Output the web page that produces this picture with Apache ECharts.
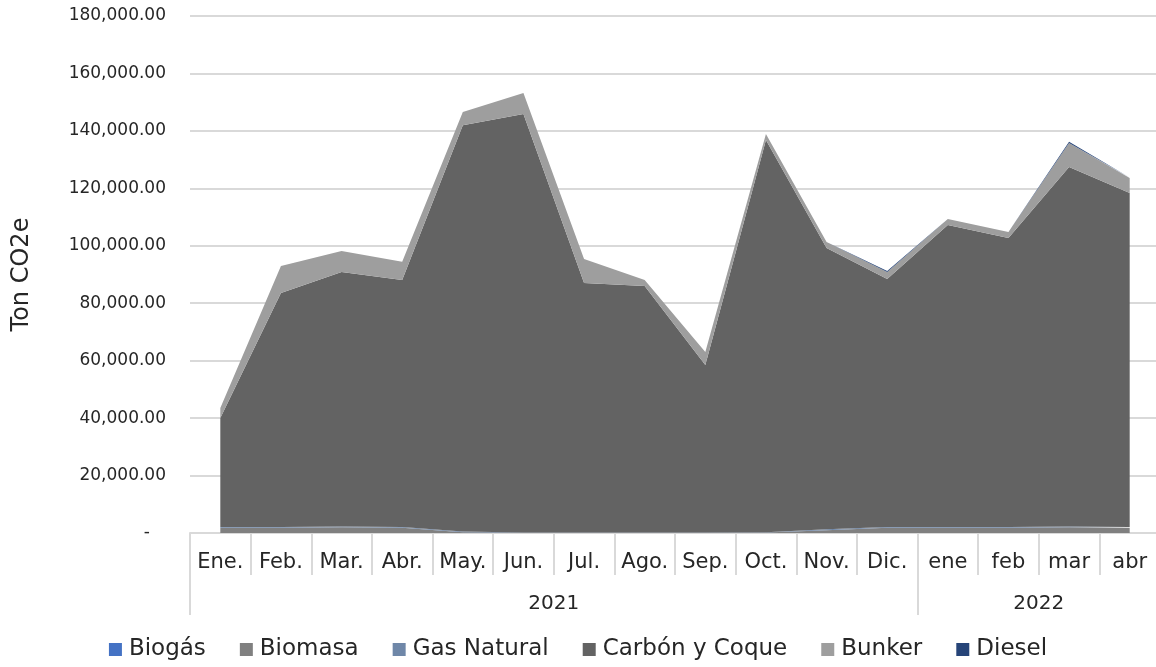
<!DOCTYPE html>
<html>
<head>
<meta charset="utf-8">
<script src="https://cdn.jsdelivr.net/npm/echarts@6/dist/echarts.min.js"></script>
<style>
  html, body { margin: 0; padding: 0; background: #fff; }
  #main { width: 1156px; height: 667px; }
</style>
</head>
<body>
<div id="main"></div>
<script>
// months (first level) and years (second level)
var months = ["Ene.", "Feb.", "Mar.", "Abr.", "May.", "Jun.", "Jul.", "Ago.", "Sep.", "Oct.", "Nov.", "Dic.", "ene", "feb", "mar", "abr"];
var years = ["2021", "2022"];
var yearStart = [0, 12];
var yearLabelPos = [6, 14];

// Ton CO2e per source
var biogas = [0, 0, 0, 0, 0, 0, 0, 0, 0, 0, 0, 0, 0, 0, 0, 0];
var biomasa = [1800, 1800, 2000, 1800, 300, 100, 100, 100, 100, 200, 1000, 1800, 1800, 1800, 2000, 1800];
var gasNatural = [300, 300, 300, 300, 200, 100, 100, 100, 100, 100, 300, 300, 300, 300, 300, 300];
var carbon = [37900, 81500, 88600, 86000, 141500, 145700, 86800, 85800, 58300, 136500, 97900, 86300, 105100, 100600, 125100, 116300];
var bunker = [3500, 9400, 7300, 6300, 4600, 7300, 8400, 2100, 4500, 2100, 2100, 2500, 2100, 2100, 8400, 5200];
var diesel = [0, 0, 0, 0, 0, 0, 0, 0, 0, 0, 0, 300, 0, 0, 400, 200];

var names = ["Biogás", "Biomasa", "Gas Natural", "Carbón y Coque", "Bunker", "Diesel"];
var colors = ["#4472C4", "#808080", "#6F87A8", "#636363", "#9E9E9E", "#264478"];
var values = [biogas, biomasa, gasNatural, carbon, bunker, diesel];

var font = "DejaVu Sans";

var chart = echarts.init(document.getElementById("main"));

var series = names.map(function (n, i) {
  return {
    name: n,
    type: "line",
    stack: "total",
    data: values[i],
    symbol: "none",
    lineStyle: { width: 0 },
    areaStyle: { color: colors[i], opacity: 1 },
    itemStyle: { color: colors[i] },
    emphasis: { disabled: true }
  };
});

var option = {
  animation: false,
  color: colors,
  grid: { left: 190, top: 16, width: 970, height: 517, outerBoundsMode: "none", containLabel: false },
  legend: {
    bottom: 1,
    left: "center",
    itemWidth: 13,
    itemHeight: 13,
    itemGap: 34,
    icon: "rect",
    textStyle: { fontFamily: font, fontSize: 23, color: "#262626", padding: [0, 0, 0, 2] },
    data: names
  },
  xAxis: [
    {
      type: "category",
      data: months,
      boundaryGap: true,
      axisLine: { show: true, lineStyle: { color: "#d9d9d9", width: 2 } },
      axisTick: { show: true, interval: 0, length: 42, lineStyle: { color: "#d9d9d9", width: 2 } },
      axisLabel: { interval: 0, margin: 19, fontFamily: font, fontSize: 21, color: "#262626" }
    },
    {
      type: "value",
      position: "bottom",
      offset: 42,
      min: 0,
      max: months.length,
      axisLine: { show: false },
      splitLine: { show: false },
      axisTick: {
        show: true,
        length: 40,
        customValues: yearStart.concat([months.length]),
        lineStyle: { color: "#d9d9d9", width: 2 }
      },
      axisLabel: {
        customValues: yearLabelPos,
        margin: 19,
        fontFamily: font,
        fontSize: 20,
        color: "#262626",
        formatter: function (v) {
          var k = yearLabelPos.indexOf(v);
          return k >= 0 ? years[k] : "";
        }
      }
    }
  ],
  yAxis: {
    type: "value",
    min: 0,
    max: 180000,
    interval: 20000,
    name: "Ton CO2e",
    nameLocation: "middle",
    nameGap: 156,
    nameTextStyle: { fontFamily: font, fontSize: 24, color: "#262626" },
    axisLine: { show: false },
    axisTick: { show: false },
    splitLine: { lineStyle: { color: "#d9d9d9", width: 2 } },
    axisLabel: {
      margin: 24,
      fontFamily: font,
      fontSize: 17,
      color: "#262626",
      formatter: function (v) {
        if (v === 0) return "-   ";
        return v.toLocaleString("en-US", { minimumFractionDigits: 2, maximumFractionDigits: 2 });
      }
    }
  },
  series: series
};

chart.setOption(option);
</script>
</body>
</html>
